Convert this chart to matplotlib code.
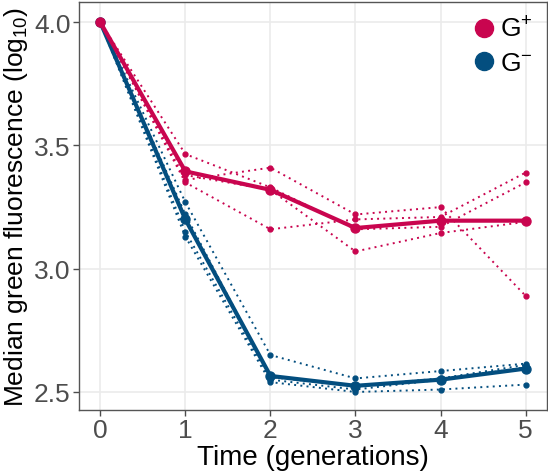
import matplotlib.pyplot as plt
from matplotlib.lines import Line2D

plt.rcParams['font.family'] = ['Liberation Sans', 'DejaVu Sans']

# generations
time = [0, 1, 2, 3, 4, 5]

# G+ replicates and mean (log10 median green fluorescence)
gpos_reps = [
    [4.0, 3.465, 3.33, 3.16, 3.17, 3.35],
    [4.0, 3.36, 3.41, 3.22, 3.25, 2.89],
    [4.0, 3.35, 3.16, 3.20, 3.21, 3.39],
    [4.0, 3.38, 3.32, 3.07, 3.145, 3.19],
]
gpos_mean = [4.0, 3.395, 3.32, 3.165, 3.195, 3.195]

# G- replicates and mean
gneg_reps = [
    [4.0, 3.27, 2.65, 2.555, 2.585, 2.615],
    [4.0, 3.22, 2.56, 2.525, 2.555, 2.61],
    [4.0, 3.15, 2.55, 2.51, 2.55, 2.60],
    [4.0, 3.13, 2.54, 2.50, 2.51, 2.53],
]
gneg_mean = [4.0, 3.20, 2.565, 2.525, 2.55, 2.595]

red = '#C9054F'
blue = '#034E7F'

fig = plt.figure(figsize=(5.48, 4.77), dpi=100)
ax = fig.add_axes([0.1442, 0.1384, 0.8538, 0.8553])

for reps, col in [(gpos_reps, red), (gneg_reps, blue)]:
    for r in reps:
        ax.plot(time, r, color=col, lw=1.4, ls=(0, (1, 2.2)),
                marker='o', ms=3.5, zorder=2)

ax.plot(time, gneg_mean, color=blue, lw=3, marker='o', ms=6.5, zorder=3)
ax.plot(time, gpos_mean, color=red, lw=3, marker='o', ms=6.5, zorder=3)

ax.set_xlim(-0.25, 5.25)
ax.set_ylim(2.427, 4.082)
ax.set_xticks(time)
ax.set_yticks([2.5, 3.0, 3.5, 4.0])
ax.set_yticklabels(['2.5', '3.0', '3.5', '4.0'])

ax.grid(True, color='#EBEBEB', lw=1.2)
ax.set_axisbelow(True)
for s in ax.spines.values():
    s.set_color('#555555')
    s.set_linewidth(1.0)
ax.tick_params(colors='#4D4D4D', labelsize=19, length=4, width=1, pad=2)
for lab in ax.get_xticklabels() + ax.get_yticklabels():
    lab.set_color('#4D4D4D')

ax.set_xlabel('Time (generations)', fontsize=20, labelpad=1)
ax.set_ylabel(r'Median green fluorescence ($\mathregular{log_{10}}$)',
              fontsize=19, labelpad=3)

handles = [
    Line2D([], [], color=red, marker='o', ls='', ms=13),
    Line2D([], [], color=blue, marker='o', ls='', ms=13),
]
ax.legend(handles, [r'G$\mathregular{^{+}}$', r'G$\mathregular{^{-}}$'],
          loc='upper right', frameon=False, fontsize=19,
          handletextpad=0.05, labelspacing=0.35, borderaxespad=0.15,
          handlelength=1.1)

fig.savefig('out.png', dpi=100)
